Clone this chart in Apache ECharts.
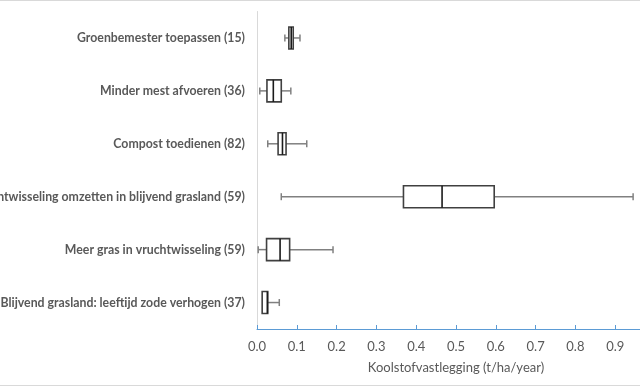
<!DOCTYPE html>
<html><head><meta charset="utf-8">
<script src="https://cdn.jsdelivr.net/npm/echarts@6/dist/echarts.min.js"></script>
<style>html,body{margin:0;padding:0;background:#fff}#c{width:640px;height:387px}</style>
</head><body><div id="c"></div>
<script>
const categories = [
  'Groenbemester toepassen (15)',
  'Minder mest afvoeren (36)',
  'Compost toedienen (82)',
  'Vruchtwisseling omzetten in blijvend grasland (59)',
  'Meer gras in vruchtwisseling (59)',
  'Blijvend grasland: leeftijd zode verhogen (37)'
];
const minVals    = [0.070, 0.007, 0.027, 0.061, 0.003, 0.013];
const q1Vals     = [0.080, 0.025, 0.053, 0.368, 0.024, 0.013];
const medianVals = [0.086, 0.041, 0.064, 0.465, 0.058, 0.026];
const q3Vals     = [0.091, 0.061, 0.073, 0.596, 0.082, 0.027];
const maxVals    = [0.108, 0.085, 0.125, 0.945, 0.191, 0.056];
const xTicks = ['0.0','0.1','0.2','0.3','0.4','0.5','0.6','0.7','0.8','0.9','1.0'];

const data = categories.map((c, i) => [i, minVals[i], q1Vals[i], medianVals[i], q3Vals[i], maxVals[i]]);
const chart = echarts.init(document.getElementById('c'));
const boxH = 22, capH = 7;
chart.setOption({
  animation: false,
  grid: {left: 257, right: -15, top: 11.5, bottom: 58, containLabel: false, outerBoundsMode: 'none'},
  xAxis: {
    type: 'value', min: 0, max: 1, interval: 0.1,
    name: 'Koolstofvastlegging (t/ha/year)', nameLocation: 'middle', nameGap: 32,
    nameTextStyle: {color: '#595959', fontSize: 13, fontFamily: 'Lato'},
    axisLine: {show: true, lineStyle: {color: '#5b9bd5', width: 1}},
    axisTick: {show: true, inside: true, length: 4, lineStyle: {color: '#5b9bd5'}},
    axisLabel: {color: '#595959', fontSize: 13, fontFamily: 'Lato', margin: 11,
      formatter: v => xTicks[Math.round(v * 10)]},
    splitLine: {show: false}
  },
  yAxis: {
    type: 'category', data: categories, inverse: true,
    axisLine: {show: true, lineStyle: {color: '#d9d9d9', width: 1}},
    axisTick: {show: false},
    axisLabel: {color: '#595959', fontSize: 12.3, fontWeight: 'bold', fontFamily: 'Lato', margin: 12}
  },
  graphic: [
    {type: 'line', shape: {x1: 0, y1: 0.5, x2: 640, y2: 0.5}, style: {stroke: '#d9d9d9', lineWidth: 1}},
    {type: 'line', shape: {x1: 0, y1: 385.5, x2: 640, y2: 385.5}, style: {stroke: '#d9d9d9', lineWidth: 1}}
  ],
  series: [{
    type: 'custom',
    data: data,
    encode: {x: [1, 2, 3, 4, 5], y: 0},
    renderItem: function (params, api) {
      const ci = api.value(0);
      const p = [1,2,3,4,5].map(k => api.coord([api.value(k), ci]));
      const y = p[0][1];
      const xMin = p[0][0], xQ1 = p[1][0], xMed = p[2][0], xQ3 = p[3][0], xMax = p[4][0];
      const wh = {stroke: '#808080', lineWidth: 1.5};
      const children = [];
      if (xQ1 - xMin > 0.5) {
        children.push({type: 'line', shape: {x1: xMin, y1: y, x2: xQ1, y2: y}, style: wh});
        children.push({type: 'line', shape: {x1: xMin, y1: y - capH/2, x2: xMin, y2: y + capH/2}, style: wh});
      }
      if (xMax - xQ3 > 0.5) {
        children.push({type: 'line', shape: {x1: xQ3, y1: y, x2: xMax, y2: y}, style: wh});
        children.push({type: 'line', shape: {x1: xMax, y1: y - capH/2, x2: xMax, y2: y + capH/2}, style: wh});
      }
      children.push({type: 'rect', shape: {x: xQ1, y: y - boxH/2, width: xQ3 - xQ1, height: boxH},
        style: {fill: '#fff', stroke: '#404040', lineWidth: 1.6}});
      children.push({type: 'line', shape: {x1: xMed, y1: y - boxH/2, x2: xMed, y2: y + boxH/2},
        style: {stroke: '#1a1a1a', lineWidth: 1.6}});
      return {type: 'group', children: children};
    }
  }]
});
</script></body></html>
